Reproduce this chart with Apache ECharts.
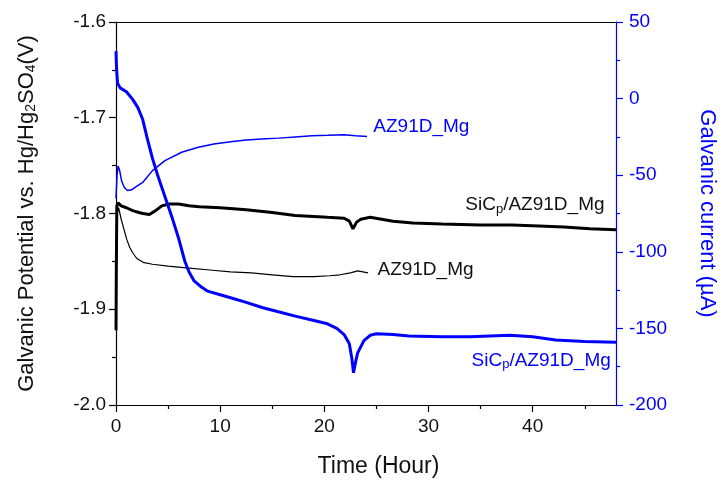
<!DOCTYPE html>
<html><head><meta charset="utf-8">
<script src="https://cdn.jsdelivr.net/npm/echarts@6/dist/echarts.min.js"></script>
<style>html,body{margin:0;padding:0;background:#fff}#c{width:726px;height:483px}</style>
</head><body><div id="c"></div>
<script>
const FONT = '"Liberation Sans", Arial, sans-serif';
const BLUE = '#0000ff';
const xMajorTicks = [0, 10, 20, 30, 40];
const xMinorTicks = [5, 15, 25, 35, 45];
const xMax = 48;

// Galvanic potential (V), SiCp/AZ91D_Mg couple  [time h, V]
const sicPotential = [[0,-1.922],[0.03,-1.86],[0.08,-1.792],[0.2,-1.789],[0.5,-1.792],[1.0,-1.794],[1.6,-1.797],[2.2,-1.799],[2.6,-1.800],[3.2,-1.801],[3.8,-1.797],[4.4,-1.792],[5.1,-1.790],[6.0,-1.790],[7.0,-1.792],[8.0,-1.793],[10,-1.794],[12.5,-1.796],[15,-1.799],[17.2,-1.802],[20.3,-1.804],[21.9,-1.805],[22.4,-1.808],[22.75,-1.816],[23.1,-1.809],[23.5,-1.806],[24.4,-1.804],[26.6,-1.808],[28.5,-1.810],[31.3,-1.811],[35,-1.812],[38,-1.812],[40.6,-1.813],[43,-1.814],[45.5,-1.816],[48,-1.817]];
// Galvanic potential (V), AZ91D_Mg couple
const azPotential = [[0.1,-1.80],[0.25,-1.794],[0.5,-1.806],[0.7,-1.814],[1.0,-1.826],[1.3,-1.835],[1.6,-1.841],[2.0,-1.847],[2.6,-1.851],[3.5,-1.853],[5,-1.855],[7,-1.857],[9,-1.859],[11,-1.861],[13,-1.862],[15,-1.864],[17,-1.866],[19,-1.866],[20.5,-1.865],[21.5,-1.864],[22.5,-1.862],[23.2,-1.860],[23.7,-1.861],[24.2,-1.862]];
// Galvanic current (uA), AZ91D_Mg couple
const azCurrent = [[0,-65],[0.1,-50],[0.2,-44],[0.35,-47],[0.55,-54],[0.8,-58],[1.1,-60],[1.5,-59.5],[1.9,-57.7],[2.6,-54.5],[3.5,-47],[4.7,-40.5],[6.3,-35],[7.9,-31.8],[9.4,-29.7],[11,-28.2],[12.5,-27],[14,-26.4],[15.6,-25.8],[17.2,-25],[18.8,-24.3],[20.3,-24],[21.9,-23.6],[23,-24.2],[24.1,-24.7]];
// Galvanic current (uA), SiCp/AZ91D_Mg couple
const sicCurrent = [[0,31],[0.05,20],[0.15,10],[0.4,7],[1.0,4.5],[1.6,-0.5],[2.1,-5.9],[2.56,-13.5],[3.0,-26],[3.5,-39],[4.0,-50],[4.75,-65],[5.4,-78],[6.0,-91],[6.6,-106],[7.0,-113],[7.5,-119],[8.2,-123],[8.8,-125.7],[10,-128],[11,-130],[12.5,-133],[14.1,-136.5],[15.5,-139],[17.2,-142],[18.8,-144.5],[20.3,-147],[21.2,-150],[21.9,-154],[22.4,-160],[22.65,-170],[22.8,-179],[23.0,-172],[23.2,-166],[23.8,-158],[24.4,-154.5],[25,-153.5],[26.6,-154],[28.1,-155],[31.3,-155.5],[34,-155.5],[37.8,-154.5],[40,-155.5],[42.2,-157.5],[45,-158.5],[48,-159]];

// label anchors [time, value]
const labelAzCurrent = [24.7, -18.7];
const labelAzPotential = [25.1, -1.8588];
const labelSicPotential = [46.9, -1.7914];
const labelSicCurrent = [47.5, -170.9];

const richLabel = (color) => ({
  a: {fontSize: 19, fontFamily: FONT, color: color, lineHeight: 22},
  s: {fontSize: 13, fontFamily: FONT, color: color, lineHeight: 13, verticalAlign: 'bottom', padding: [4, 0, 0, 0]}
});

function mark(coord, text, color, side) {
  return {
    symbol: 'circle', symbolSize: 0, silent: true, animation: false,
    data: [{coord: coord}],
    label: {show: true, position: side, distance: 0, formatter: text, rich: richLabel(color), color: color, fontSize: 19, fontFamily: FONT}
  };
}

const chart = echarts.init(document.getElementById('c'), null, {renderer: 'canvas'});
chart.setOption({
  animation: false,
  backgroundColor: '#fff',
  textStyle: {fontFamily: FONT},
  grid: {left: 116, right: 95, top: 22, bottom: 75, containLabel: false},
  xAxis: [
    {type: 'value', min: 0, max: xMax, position: 'bottom',
      axisLine: {onZero: false, lineStyle: {color: '#000', width: 1.2}},
      axisTick: {show: true, customValues: xMajorTicks, length: 7, lineStyle: {color: '#000', width: 1.2}},
      axisLabel: {customValues: xMajorTicks, fontSize: 19, color: '#111', margin: 12, fontFamily: FONT},
      splitLine: {show: false},
      name: 'Time (Hour)', nameLocation: 'middle', nameGap: 50,
      nameTextStyle: {fontSize: 23, color: '#111', fontFamily: FONT, padding: [0, 0, 0, 25]}},
    {type: 'value', min: 0, max: xMax, position: 'bottom',
      axisLine: {show: false, onZero: false},
      axisTick: {show: true, customValues: xMinorTicks, length: 4, lineStyle: {color: '#000', width: 1.2}},
      axisLabel: {show: false}, splitLine: {show: false}},
    {type: 'value', min: 0, max: xMax, position: 'top',
      axisLine: {show: true, onZero: false, lineStyle: {color: '#000', width: 1.2}},
      axisTick: {show: false}, axisLabel: {show: false}, splitLine: {show: false}}
  ],
  yAxis: [
    {type: 'value', min: -2.0, max: -1.6, interval: 0.1, position: 'left',
      axisLine: {show: true, onZero: false, lineStyle: {color: '#000', width: 1.2}},
      axisTick: {show: true, length: 7, lineStyle: {color: '#000', width: 1.2}},
      minorTick: {show: true, splitNumber: 2, length: 4, lineStyle: {color: '#000', width: 1.2}},
      axisLabel: {formatter: v => v.toFixed(1), fontSize: 19, color: '#111', margin: 10, fontFamily: FONT},
      splitLine: {show: false}, minorSplitLine: {show: false},
      name: 'Galvanic Potential vs. Hg/Hg{s|2}SO{s|4}(V)', nameLocation: 'middle', nameRotate: 90, nameGap: 78,
      nameTextStyle: {fontSize: 22, color: '#111', fontFamily: FONT,
        rich: {s: {fontSize: 14, fontFamily: FONT, color: '#111', verticalAlign: 'bottom', lineHeight: 14, padding: [6, 0, 0, 0]}}}},
    {type: 'value', min: -200, max: 50, interval: 50, position: 'right',
      axisLine: {show: true, onZero: false, lineStyle: {color: BLUE, width: 1.2}},
      axisTick: {show: true, length: 7, lineStyle: {color: BLUE, width: 1.2}},
      minorTick: {show: true, splitNumber: 2, length: 4, lineStyle: {color: BLUE, width: 1.2}},
      axisLabel: {fontSize: 19, color: BLUE, margin: 13, fontFamily: FONT},
      splitLine: {show: false}, minorSplitLine: {show: false},
      name: 'Galvanic current (µA)', nameLocation: 'middle', nameRotate: -90, nameGap: 80,
      nameTextStyle: {fontSize: 22, color: BLUE, fontFamily: FONT}}
  ],
  series: [
    {name: 'SiCp/AZ91D_Mg potential', type: 'line', xAxisIndex: 0, yAxisIndex: 0, data: sicPotential,
      showSymbol: false, symbol: 'none', lineStyle: {color: '#000', width: 3}, itemStyle: {color: '#000'},
      markPoint: mark(labelSicPotential, '{a|SiC}{s|p}{a|/AZ91D_Mg}', '#111', 'left')},
    {name: 'AZ91D_Mg potential', type: 'line', xAxisIndex: 0, yAxisIndex: 0, data: azPotential,
      showSymbol: false, symbol: 'none', lineStyle: {color: '#000', width: 1.2}, itemStyle: {color: '#000'},
      markPoint: mark(labelAzPotential, '{a|AZ91D_Mg}', '#111', 'right')},
    {name: 'AZ91D_Mg current', type: 'line', xAxisIndex: 0, yAxisIndex: 1, data: azCurrent,
      showSymbol: false, symbol: 'none', lineStyle: {color: BLUE, width: 1.5}, itemStyle: {color: BLUE},
      markPoint: mark(labelAzCurrent, '{a|AZ91D_Mg}', BLUE, 'right')},
    {name: 'SiCp/AZ91D_Mg current', type: 'line', xAxisIndex: 0, yAxisIndex: 1, data: sicCurrent,
      showSymbol: false, symbol: 'none', lineStyle: {color: BLUE, width: 3}, itemStyle: {color: BLUE},
      markPoint: mark(labelSicCurrent, '{a|SiC}{s|p}{a|/AZ91D_Mg}', BLUE, 'left')}
  ]
});
</script>
</body></html>
